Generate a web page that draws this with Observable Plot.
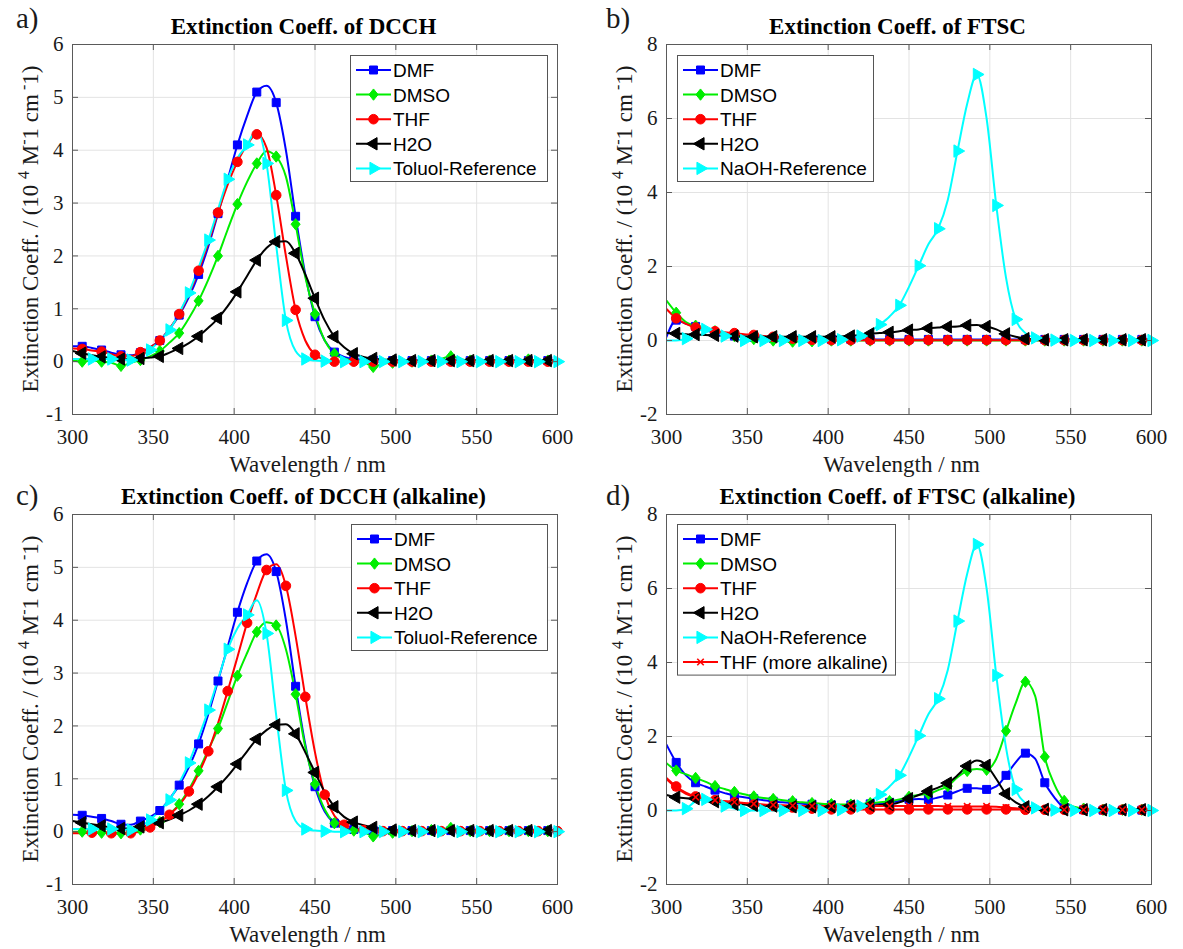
<!DOCTYPE html>
<html>
<head>
<meta charset="utf-8">
<script src="https://cdn.jsdelivr.net/npm/d3@7"></script>
<script src="https://cdn.jsdelivr.net/npm/@observablehq/plot@0.6"></script>
<style>
  body { margin: 0; background: #ffffff; }
  #fig { position: relative; width: 1183px; height: 949px; overflow: hidden; background: #ffffff; }
  #fig > svg { position: absolute; }
</style>
</head>
<body>
<div id="fig"></div>
<script>
// ---------------- DATA ----------------
const wavelength = [300,306,312,318,324,330,336,342,348,354,360,366,372,378,384,390,396,402,408,414,
  420,426,432,438,444,450,456,462,468,474,480,486,492,498,504,510,516,522,528,534,
  540,546,552,558,564,570,576,582,588,594,600];

const xTicks = [300, 350, 400, 450, 500, 550, 600];
const yTicksDCCH = [-1, 0, 1, 2, 3, 4, 5, 6];
const yTicksFTSC = [-2, 0, 2, 4, 6, 8];

// a) DCCH
const dmfA = [0.29,0.29,0.26,0.22,0.17,0.13,0.12,0.17,0.27,0.40, 0.62,0.88,1.22,1.65,2.18,2.80,3.45,4.10,4.65,5.10,
  5.22,4.90,4.00,2.75,1.65,0.85,0.40,0.18,0.09,0.05, 0.04,0.03,0.02,0.02,0.02,0.02,0.02,0.02,0.02,0.02,
  0.02,0.02,0.02,0.02,0.02,0.02,0.02,0.02,0.02,0.02,0.02];
const dmsoA = [0.02,0.00,0.02,0.00,-0.02,-0.08,-0.02,0.03,0.10,0.20, 0.36,0.54,0.82,1.15,1.55,2.00,2.50,2.98,3.40,3.75,
  3.98,3.88,3.50,2.60,1.60,0.90,0.40,0.15,0.06,0.02, 0.00,-0.10,-0.04,-0.02,0.00,0.00,0.02,0.02,0.05,0.10,
  0.05,0.02,0.02,0.02,0.03,0.02,0.02,0.04,0.02,0.02,0.00];
const thfA = [0.25,0.24,0.21,0.19,0.14,0.10,0.10,0.18,0.27,0.40, 0.62,0.90,1.28,1.72,2.25,2.82,3.35,3.78,4.10,4.30,
  4.05,3.15,2.00,0.98,0.40,0.13,0.04,0.00,0.00,0.00, 0.00,0.00,0.00,0.00,0.00,0.00,0.00,0.00,0.00,0.00,
  0.00,0.00,0.00,0.00,0.00,0.00,0.00,0.00,0.00,0.00,0.00];
const h2oA = [0.20,0.16,0.12,0.09,0.07,0.05,0.05,0.06,0.08,0.10, 0.17,0.25,0.35,0.48,0.64,0.82,1.05,1.32,1.62,1.92,
  2.15,2.27,2.28,2.05,1.65,1.20,0.78,0.47,0.27,0.15, 0.09,0.06,0.04,0.03,0.02,0.02,0.02,0.02,0.02,0.02,
  0.02,0.02,0.02,0.02,0.02,0.02,0.02,0.02,0.02,0.02,0.02];
const toluolRef = [0.05,0.05,0.05,0.05,0.05,0.04,0.03,0.10,0.22,0.40, 0.60,0.92,1.30,1.78,2.30,2.88,3.45,3.85,4.10,4.38,
  3.75,2.20,0.78,0.20,0.05,0.02,0.01,0.00,0.00,0.00, 0.00,0.00,0.00,0.00,0.00,0.00,0.00,0.00,0.00,0.00,
  0.00,0.00,0.00,0.00,0.00,0.00,0.00,0.00,0.00,0.00,0.00];

// b) FTSC
const dmfB = [0.10,0.55,0.45,0.38,0.28,0.20,0.15,0.12,0.10,0.08, 0.07,0.06,0.05,0.05,0.04,0.04,0.03,0.03,0.03,0.03,
  0.03,0.03,0.03,0.03,0.03,0.03,0.03,0.03,0.03,0.03, 0.03,0.03,0.03,0.03,0.03,0.03,0.03,0.03,0.03,0.03,
  0.03,0.03,0.03,0.03,0.03,0.03,0.03,0.03,0.03,0.03,0.03];
const dmsoB = [1.08,0.75,0.50,0.40,0.32,0.25,0.18,0.12,0.08,0.04, 0.02,0.00,-0.02,-0.03,-0.02,-0.02,0.00,0.00,0.00,0.00,
  0.00,0.00,0.00,0.00,0.00,0.00,0.00,0.00,0.00,0.00, 0.00,0.00,0.00,0.00,0.00,0.00,0.00,0.00,0.00,0.00,
  0.00,0.00,0.00,0.00,0.00,0.00,0.00,0.00,0.00,0.00,0.00];
const thfB = [0.85,0.60,0.45,0.35,0.30,0.25,0.22,0.20,0.17,0.15, 0.12,0.10,0.07,0.05,0.03,0.02,0.02,0.01,0.01,0.01,
  0.01,0.01,0.01,0.01,0.01,0.01,0.01,0.01,0.01,0.01, 0.01,0.01,0.01,0.01,0.01,0.01,0.01,0.01,0.01,0.01,
  0.01,0.01,0.01,0.01,0.01,0.01,0.01,0.01,0.01,0.01,0.01];
const h2oB = [0.20,0.19,0.17,0.16,0.15,0.14,0.13,0.12,0.11,0.10, 0.10,0.10,0.10,0.10,0.10,0.10,0.10,0.10,0.11,0.12,
  0.15,0.18,0.20,0.22,0.25,0.28,0.30,0.33,0.35,0.37, 0.38,0.41,0.42,0.38,0.30,0.18,0.10,0.05,0.03,0.02,
  0.02,0.02,0.02,0.02,0.02,0.02,0.02,0.02,0.02,0.02,0.02];
const naohRef = [0.00,0.00,0.05,0.25,0.30,0.22,0.12,0.05,0.00,0.00, 0.00,0.00,0.00,0.00,0.00,0.00,0.00,0.00,0.02,0.05,
  0.12,0.25,0.43,0.65,0.95,1.45,2.02,2.60,3.02,3.80, 5.12,6.40,7.19,6.00,3.65,1.70,0.57,0.20,0.07,0.02,
  0.01,0.00,0.00,0.00,0.00,0.00,0.00,0.00,0.00,0.00,0.00];

// c) DCCH (alkaline)
const dmfC = [0.32,0.31,0.28,0.25,0.20,0.14,0.13,0.20,0.28,0.40, 0.62,0.88,1.22,1.66,2.22,2.85,3.50,4.15,4.70,5.12,
  5.25,4.92,4.00,2.75,1.65,0.85,0.38,0.16,0.07,0.04, 0.03,0.02,0.02,0.02,0.02,0.02,0.02,0.02,0.02,0.02,
  0.02,0.02,0.02,0.02,0.02,0.02,0.02,0.02,0.02,0.02,0.02];
const dmsoC = [0.00,0.00,0.00,-0.02,-0.02,-0.03,-0.01,0.04,0.09,0.18, 0.33,0.52,0.80,1.15,1.55,1.95,2.45,2.95,3.38,3.78,
  3.96,3.90,3.45,2.60,1.60,0.90,0.42,0.16,0.06,0.02, 0.00,-0.09,-0.04,-0.02,0.00,0.01,0.02,0.03,0.04,0.07,
  0.03,0.01,0.01,0.01,0.01,0.01,0.01,0.01,0.01,0.01,0.00];
const thfC = [-0.03,-0.03,-0.02,-0.02,-0.03,-0.04,-0.03,0.00,0.08,0.18, 0.32,0.50,0.76,1.10,1.52,2.05,2.66,3.30,3.95,4.50,
  4.95,5.06,4.65,3.70,2.55,1.50,0.70,0.30,0.13,0.06, 0.03,0.02,0.01,0.01,0.01,0.01,0.01,0.01,0.01,0.01,
  0.01,0.01,0.01,0.01,0.01,0.01,0.01,0.01,0.01,0.01,0.01];
const h2oC = [0.20,0.17,0.14,0.11,0.08,0.06,0.07,0.09,0.12,0.17, 0.23,0.31,0.40,0.52,0.67,0.85,1.05,1.28,1.52,1.75,
  1.92,2.02,2.03,1.85,1.50,1.12,0.75,0.47,0.28,0.18, 0.12,0.08,0.05,0.03,0.02,0.02,0.02,0.02,0.02,0.02,
  0.02,0.02,0.02,0.02,0.02,0.02,0.02,0.02,0.02,0.02,0.02];

// d) FTSC (alkaline)
const dmfD = [1.78,1.30,0.95,0.75,0.65,0.55,0.47,0.40,0.36,0.32, 0.28,0.25,0.22,0.20,0.18,0.17,0.16,0.15,0.15,0.15,
  0.16,0.18,0.20,0.22,0.26,0.30,0.31,0.30,0.35,0.42, 0.52,0.60,0.60,0.57,0.65,0.95,1.30,1.55,1.40,0.75,
  0.35,0.08,0.03,0.02,0.01,0.01,0.01,0.01,0.01,0.01,0.01];
const dmsoD = [1.28,1.08,0.98,0.88,0.78,0.66,0.58,0.50,0.44,0.38, 0.34,0.31,0.28,0.25,0.22,0.20,0.18,0.17,0.16,0.16,
  0.17,0.20,0.22,0.25,0.30,0.37,0.42,0.45,0.55,0.66, 0.90,1.07,1.12,1.10,1.40,2.15,2.90,3.48,3.10,1.45,
  0.70,0.26,0.10,0.05,0.03,0.02,0.02,0.02,0.02,0.02,0.02];
const thfD = [0.88,0.65,0.48,0.38,0.33,0.28,0.25,0.22,0.19,0.16, 0.14,0.12,0.10,0.08,0.06,0.05,0.04,0.03,0.03,0.03,
  0.03,0.03,0.03,0.03,0.03,0.03,0.03,0.03,0.03,0.03, 0.03,0.03,0.03,0.03,0.03,0.03,0.03,0.02,0.02,0.02,
  0.02,0.02,0.02,0.02,0.02,0.02,0.02,0.02,0.02,0.02,0.02];
const h2oD = [0.42,0.36,0.33,0.32,0.30,0.24,0.20,0.17,0.16,0.14, 0.13,0.12,0.11,0.10,0.10,0.10,0.10,0.10,0.11,0.12,
  0.13,0.14,0.15,0.16,0.22,0.32,0.42,0.52,0.62,0.74, 0.95,1.20,1.35,1.22,0.85,0.45,0.22,0.10,0.05,0.03,
  0.02,0.02,0.02,0.02,0.02,0.02,0.02,0.02,0.02,0.02,0.02];
const thfMoreD = [0.85,0.62,0.45,0.36,0.32,0.28,0.25,0.23,0.20,0.18, 0.16,0.15,0.14,0.13,0.12,0.12,0.12,0.12,0.12,0.12,
  0.12,0.12,0.12,0.12,0.12,0.12,0.12,0.12,0.12,0.11, 0.11,0.11,0.11,0.11,0.10,0.08,0.06,0.04,0.03,0.02,
  0.02,0.02,0.02,0.02,0.02,0.02,0.02,0.02,0.02,0.02,0.02];

// ---------------- SYMBOLS ----------------
const triLeft = { draw(ctx, size) { const R = Math.sqrt(size / 1.299); ctx.moveTo(-R, 0); ctx.lineTo(R / 2, -R * 0.866); ctx.lineTo(R / 2, R * 0.866); ctx.closePath(); } };
const triRight = { draw(ctx, size) { const R = Math.sqrt(size / 1.299); ctx.moveTo(R, 0); ctx.lineTo(-R / 2, -R * 0.866); ctx.lineTo(-R / 2, R * 0.866); ctx.closePath(); } };
const diamondSym = { draw(ctx, size) { const R = Math.sqrt(size / 2) * 1.05; const w = R * 0.8; ctx.moveTo(0, -R); ctx.lineTo(w, 0); ctx.lineTo(0, R); ctx.lineTo(-w, 0); ctx.closePath(); } };
const squareSym = { draw(ctx, size) { const s = Math.sqrt(size) / 2; ctx.rect(-s, -s, 2 * s, 2 * s); } };
const circleSym = { draw(ctx, size) { const r = Math.sqrt(size / Math.PI); ctx.moveTo(r, 0); ctx.arc(0, 0, r, 0, 2 * Math.PI); } };
const timesSym = { draw(ctx, size) { const r = Math.sqrt(size / Math.PI) * 0.9; ctx.moveTo(-r, -r); ctx.lineTo(r, r); ctx.moveTo(-r, r); ctx.lineTo(r, -r); } };

const styles = {
  DMF:  { color: "#0000ff", symbol: squareSym,  r: 4.5, phase: 1 },
  DMSO: { color: "#00ee00", symbol: diamondSym, r: 4.3, phase: 1 },
  THF:  { color: "#ff0000", symbol: circleSym,  r: 4.8, phase: 1 },
  H2O:  { color: "#000000", symbol: triLeft,    r: 4.6, phase: 1 },
  REF:  { color: "#00ffff", symbol: triRight,   r: 4.6, phase: 0 },
  THFX: { color: "#ff0000", symbol: timesSym,   r: 3.6, phase: 1, hollow: true }
};

const panels = [
  { left: 0, top: 0, tag: "a)", title: "Extinction Coeff. of DCCH", yDomain: [-1, 6], yTicks: yTicksDCCH,
    legend: { x: 350, y: 55, w: 197 },
    series: [
      { name: "DMF", values: dmfA, s: "DMF" }, { name: "DMSO", values: dmsoA, s: "DMSO" },
      { name: "THF", values: thfA, s: "THF" }, { name: "H2O", values: h2oA, s: "H2O" },
      { name: "Toluol-Reference", values: toluolRef, s: "REF" } ] },
  { left: 594, top: 0, tag: "b)", title: "Extinction Coeff. of FTSC", yDomain: [-2, 8], yTicks: yTicksFTSC,
    legend: { x: 677, y: 55, w: 196 },
    series: [
      { name: "DMF", values: dmfB, s: "DMF" }, { name: "DMSO", values: dmsoB, s: "DMSO" },
      { name: "THF", values: thfB, s: "THF" }, { name: "H2O", values: h2oB, s: "H2O" },
      { name: "NaOH-Reference", values: naohRef, s: "REF" } ] },
  { left: 0, top: 470, tag: "c)", title: "Extinction Coeff. of DCCH (alkaline)", yDomain: [-1, 6], yTicks: yTicksDCCH,
    legend: { x: 351, y: 524, w: 196 },
    series: [
      { name: "DMF", values: dmfC, s: "DMF" }, { name: "DMSO", values: dmsoC, s: "DMSO" },
      { name: "THF", values: thfC, s: "THF", phase: 0 }, { name: "H2O", values: h2oC, s: "H2O" },
      { name: "Toluol-Reference", values: toluolRef, s: "REF" } ] },
  { left: 594, top: 470, tag: "d)", title: "Extinction Coeff. of FTSC (alkaline)", yDomain: [-2, 8], yTicks: yTicksFTSC,
    legend: { x: 677, y: 524, w: 218 },
    series: [
      { name: "DMF", values: dmfD, s: "DMF" }, { name: "DMSO", values: dmsoD, s: "DMSO" },
      { name: "THF", values: thfD, s: "THF" }, { name: "H2O", values: h2oD, s: "H2O" },
      { name: "NaOH-Reference", values: naohRef, s: "REF" },
      { name: "THF (more alkaline)", values: thfMoreD, s: "THFX" } ] }
];

// ---------------- LAYOUT ----------------
const W = 590, H = 475, ML = 72, MR = 33, MT = 44, MB = 61;
const FW = W - ML - MR, FH = H - MT - MB;
const serif = "'Liberation Serif', 'Times New Roman', Times, serif";
const sans = "'Liberation Sans', Arial, Helvetica, sans-serif";
const axisColor = "#5a5a5a";
const gridColor = "#e3e3e3";
const textColor = "#1a1a1a";
const tickLen = 6;

const rows = (values) => wavelength.map((w, i) => ({ w, v: values[i], i }));
const markerRows = (values, phase) => rows(values).filter(d => d.i > 0 && d.i % 2 === phase);

const fig = document.getElementById("fig");

for (const p of panels) {
  const marks = [
    Plot.gridX(xTicks, { stroke: gridColor, strokeOpacity: 1 }),
    Plot.gridY(p.yTicks, { stroke: gridColor, strokeOpacity: 1 })
  ];
  for (const s of p.series) {
    const st = styles[s.s];
    marks.push(Plot.line(rows(s.values), { x: "w", y: "v", stroke: st.color, strokeWidth: 2, curve: "monotone-x", clip: true }));
  }
  for (const s of p.series) {
    const st = styles[s.s];
    const phase = s.phase != null ? s.phase : st.phase;
    marks.push(Plot.dot(markerRows(s.values, phase), {
      x: "w", y: "v", symbol: st.symbol, r: st.r,
      fill: st.hollow ? "none" : st.color, stroke: st.color, strokeWidth: st.hollow ? 1.6 : 1
    }));
  }
  marks.push(
    Plot.tickX(xTicks, { x: d => d, stroke: axisColor, insetTop: FH - tickLen }),
    Plot.tickX(xTicks, { x: d => d, stroke: axisColor, insetBottom: FH - tickLen }),
    Plot.tickY(p.yTicks, { y: d => d, stroke: axisColor, insetRight: FW - tickLen }),
    Plot.tickY(p.yTicks, { y: d => d, stroke: axisColor, insetLeft: FW - tickLen }),
    Plot.axisX(xTicks, { tickSize: 0, tickPadding: 15, label: null, tickFormat: d => String(d) }),
    Plot.axisY(p.yTicks, { tickSize: 0, tickPadding: 9, label: null, tickFormat: d => String(d) }),
    Plot.frame({ stroke: axisColor })
  );
  const chart = Plot.plot({
    width: W, height: H,
    marginLeft: ML, marginRight: MR, marginTop: MT, marginBottom: MB,
    x: { domain: [300, 600] },
    y: { domain: p.yDomain },
    style: { fontFamily: serif, fontSize: "21px", color: textColor, background: "transparent", overflow: "visible" },
    marks
  });
  chart.style.left = p.left + "px";
  chart.style.top = p.top + "px";
  chart.style.maxWidth = "none";
  fig.appendChild(chart);
}

// ---------------- ANNOTATIONS (titles, labels, legends) ----------------
const over = d3.create("svg").attr("width", 1183).attr("height", 949)
  .style("left", "0px").style("top", "0px").style("pointer-events", "none");

for (const p of panels) {
  const fx0 = p.left + ML, fx1 = p.left + W - MR, fy0 = p.top + MT, fy1 = p.top + H - MB;
  const cx = (fx0 + fx1) / 2, cy = (fy0 + fy1) / 2;
  const tagY = p.top === 0 ? 28 : 505;
  over.append("text").attr("x", p.left === 0 ? 16 : 606).attr("y", tagY)
    .attr("font-family", serif).attr("font-size", 29).attr("fill", textColor).text(p.tag);
  over.append("text").attr("x", cx - 11).attr("y", fy0 - 10).attr("text-anchor", "middle")
    .attr("font-family", serif).attr("font-weight", "bold").attr("font-size", 23).attr("fill", "#000").text(p.title);
  over.append("text").attr("x", cx - 7).attr("y", fy1 + 58).attr("text-anchor", "middle")
    .attr("font-family", serif).attr("font-size", 23).attr("fill", textColor).text("Wavelength / nm");
  const yl = over.append("text").attr("transform", `translate(${fx0 - 34},${cy}) rotate(-90)`)
    .attr("text-anchor", "middle").attr("font-family", serif).attr("font-size", 23).attr("fill", textColor);
  yl.append("tspan").text("Extinction Coeff. / (10  ");
  yl.append("tspan").attr("dy", -9).attr("font-size", 16).text("4");
  yl.append("tspan").attr("dy", 9).text(" M");
  yl.append("tspan").attr("dy", -9).attr("font-size", 16).text("-");
  yl.append("tspan").attr("dy", 9).text("1 cm");
  yl.append("tspan").attr("dy", -9).attr("font-size", 16).text(" -");
  yl.append("tspan").attr("dy", 9).text("1)");

  // legend
  const L = p.legend, n = p.series.length, rowH = 24.6;
  const g = over.append("g");
  g.append("rect").attr("x", L.x + 0.5).attr("y", L.y + 0.5).attr("width", L.w).attr("height", 3 + n * rowH)
    .attr("fill", "#fff").attr("stroke", "#555").attr("stroke-width", 1);
  p.series.forEach((s, k) => {
    const st = styles[s.s];
    const yc = L.y + 15 + k * rowH;
    g.append("line").attr("x1", L.x + 6).attr("x2", L.x + 41).attr("y1", yc).attr("y2", yc)
      .attr("stroke", st.color).attr("stroke-width", 2);
    g.append("path").attr("transform", `translate(${L.x + 23.5},${yc})`)
      .attr("d", d3.symbol().type(st.symbol).size(Math.PI * st.r * st.r)())
      .attr("fill", st.hollow ? "none" : st.color).attr("stroke", st.color).attr("stroke-width", st.hollow ? 1.6 : 1);
    g.append("text").attr("x", L.x + 43).attr("y", yc + 7).attr("font-family", sans).attr("font-size", 19)
      .attr("fill", "#000").text(s.name);
  });
}
fig.appendChild(over.node());
</script>
</body>
</html>
